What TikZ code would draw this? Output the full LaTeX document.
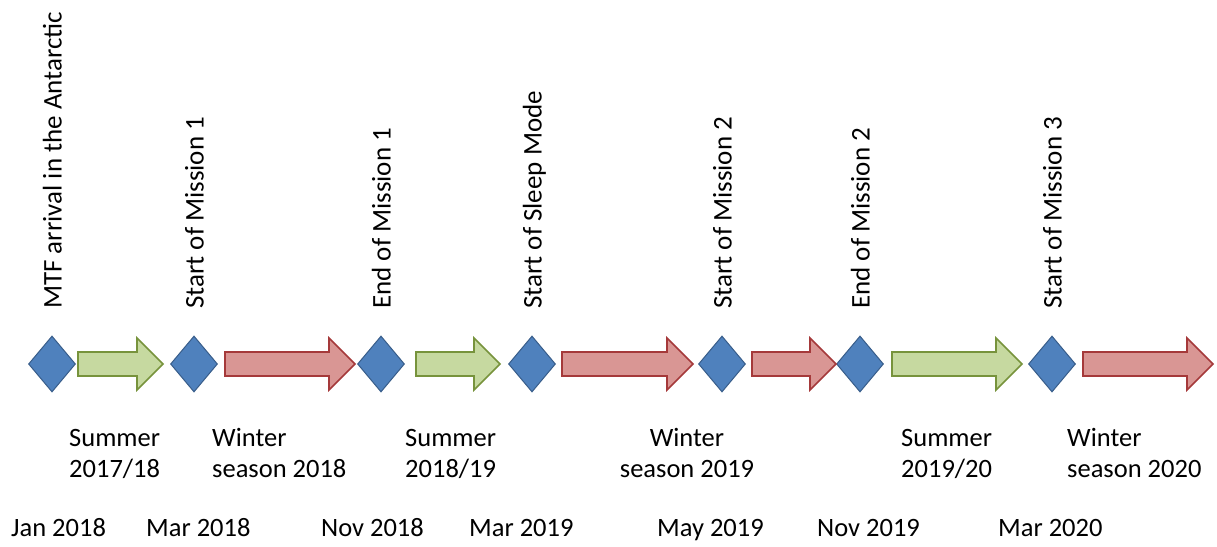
\documentclass[tikz,border=0pt]{standalone}
\usepackage{fontspec}
\setmainfont{Carlito}
\usetikzlibrary{shapes.geometric}
\definecolor{dblue}{HTML}{4F81BD}
\definecolor{dblueb}{HTML}{385D8A}
\definecolor{agreen}{HTML}{C6D9A0}
\definecolor{agreenb}{HTML}{77933C}
\definecolor{ared}{HTML}{D99694}
\definecolor{aredb}{HTML}{A5393A}
\newcommand\TLarrow[4]{% style, x0, x1, name
  \draw[#1] (#2,170) -- ({#3-26},170) -- ({#3-26},156) -- (#3,182)
    -- ({#3-26},208) -- ({#3-26},194) -- (#2,194) -- cycle;
  \coordinate (#4) at ({(#2+#3)/2},182);
}
\begin{document}
\begin{tikzpicture}[x=1pt,y=1pt,
  event/.style={diamond, draw=dblueb, fill=dblue, line width=1pt, inner sep=0pt,
    minimum width=47pt, minimum height=56pt},
  sumarrow/.style={draw=agreenb, fill=agreen, line width=1.6pt, line join=miter},
  winarrow/.style={draw=aredb, fill=ared, line width=1.6pt, line join=miter},
  vlabel/.style={rotate=90, anchor=base west, inner sep=0pt,
    font=\fontsize{27}{31}\selectfont},
  season/.style={anchor=base west, inner sep=0pt, align=left,
    font=\fontsize{26.5}{31}\selectfont},
  date/.style={anchor=base west, inner sep=0pt,
    font=\fontsize{26.5}{31}\selectfont}]
\fill[white] (0,0) rectangle (1217,546);
\useasboundingbox (0,0) rectangle (1217,546);

% events
\node[event] (d1) at (52,182) {};
\node[event] (d2) at (194,182) {};
\node[event] (d3) at (381,182) {};
\node[event] (d4) at (532,182) {};
\node[event] (d5) at (722,182) {};
\node[event] (d6) at (860,182) {};
\node[event] (d7) at (1052,182) {};

% season arrows
\TLarrow{sumarrow}{78}{163}{a1}
\TLarrow{winarrow}{225}{355}{a2}
\TLarrow{sumarrow}{416}{500}{a3}
\TLarrow{winarrow}{562}{693}{a4}
\TLarrow{winarrow}{752}{836}{a5}
\TLarrow{sumarrow}{892}{1022}{a6}
\TLarrow{winarrow}{1083}{1213}{a7}

% vertical event labels
\node[vlabel] (v1) at (61.5,237) {MTF arrival in the Antarctic};
\node[vlabel] (v2) at (203.5,237) {Start of Mission 1};
\node[vlabel] (v3) at (390.5,237) {End of Mission 1};
\node[vlabel] (v4) at (541.5,237) {Start of Sleep Mode};
\node[vlabel] (v5) at (731.5,237) {Start of Mission 2};
\node[vlabel] (v6) at (869.5,237) {End of Mission 2};
\node[vlabel] (v7) at (1061.5,237) {Start of Mission 3};

% season labels (anchor = baseline of the second line)
\node[season] (s1) at (69,69) {Summer\\2017/18};
\node[season] (s2) at (212,69) {Winter\\season 2018};
\node[season] (s3) at (405,69) {Summer\\2018/19};
\node[season, align=center, anchor=base] (s4) at (687,69) {Winter\\season 2019};
\node[season] (s5) at (901,69) {Summer\\2019/20};
\node[season] (s6) at (1067,69) {Winter\\season 2020};

% dates
\node[date] (t1) at (11,10) {Jan 2018};
\node[date] (t2) at (146,10) {Mar 2018};
\node[date] (t3) at (321,10) {Nov 2018};
\node[date] (t4) at (469,10) {Mar 2019};
\node[date] (t5) at (657,10) {May 2019};
\node[date] (t6) at (817,10) {Nov 2019};
\node[date] (t7) at (998,10) {Mar 2020};
\end{tikzpicture}
\end{document}
